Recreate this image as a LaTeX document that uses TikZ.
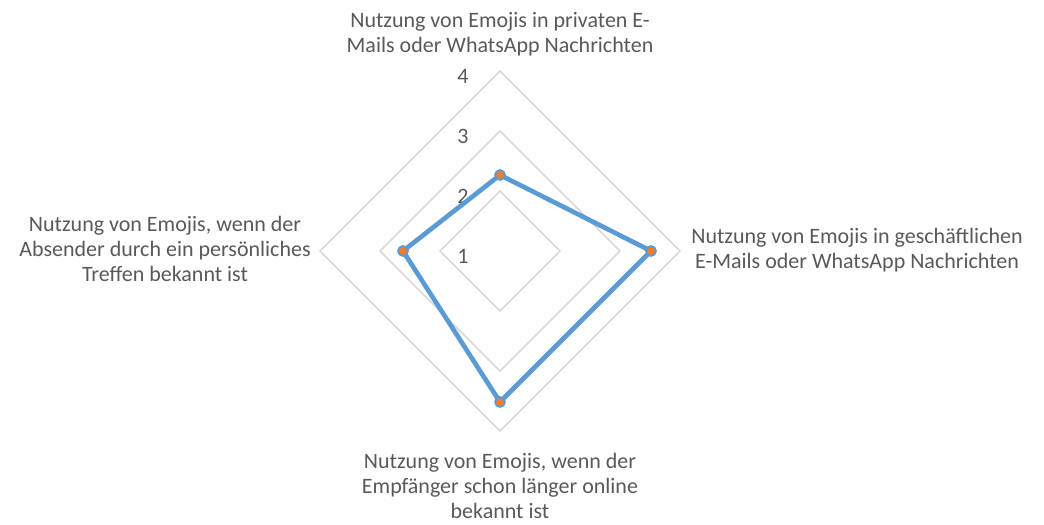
\documentclass[tikz,border=0pt]{standalone}
\usepackage{fontspec}
\setmainfont{Carlito}
\usepackage{xcolor}
\usepackage{tikz}
\usetikzlibrary{
	calc,
	positioning
}
\definecolor{GridGray}{RGB}{217,217,217}
\definecolor{TextGray}{RGB}{89,89,89}
\definecolor{SeriesBlue}{RGB}{91,155,213}
\definecolor{MarkOrange}{RGB}{237,125,49}

\begin{document}
\begin{tikzpicture}[x=0.75pt, y=-0.75pt,
		every node/.style={text=TextGray, inner sep=0pt, font=\fontsize{16.5}{19}\selectfont},
		axislabel/.style={align=center}]
		\useasboundingbox (0,0) rectangle (1044,524);
		\coordinate (O) at (500,251);
		% grid: level 1 is the centre, 60px per step
		\foreach \r in {1,2,3} {
			\draw[GridGray, line width=1.3pt] ({500},{251-60*\r}) -- ({500+60*\r},{251}) -- ({500},{251+60*\r}) -- ({500-60*\r},{251}) -- cycle;
		}
		\foreach \v in {1,...,4} {
			\node (tick\v) at (463,{256-60*(\v-1)}) {\v};
		}
		
		% values 2.27, 3.52, 3.52, 2.62
		\coordinate (P1) at (500,175);
		\coordinate (P2) at (651,251);
		\coordinate (P3) at (500,402);
		\coordinate (P4) at (403,251);
		\draw[SeriesBlue, line width=3.5pt, line join=round] (P1) -- (P2) -- (P3) -- (P4) -- cycle;
		\foreach \p in {P1,P2,P3,P4} {
			\filldraw[fill=MarkOrange, draw=SeriesBlue, line width=1.3pt] (\p) circle (5);
		}
		
		\node[axislabel] (top) at (500,34) {Nutzung von Emojis in privaten E-\\Mails oder WhatsApp Nachrichten};
		\node[axislabel] (right) at (857,250) {Nutzung von Emojis in geschäftlichen\\E-Mails oder WhatsApp Nachrichten};
		\node[axislabel] (bottom) at (500,486) {Nutzung von Emojis, wenn der\\Empfänger schon länger online\\bekannt ist};
		\node[axislabel] (left) at (165,249) {Nutzung von Emojis, wenn der\\Absender durch ein persönliches\\Treffen bekannt ist};
	\end{tikzpicture}
\end{document}
